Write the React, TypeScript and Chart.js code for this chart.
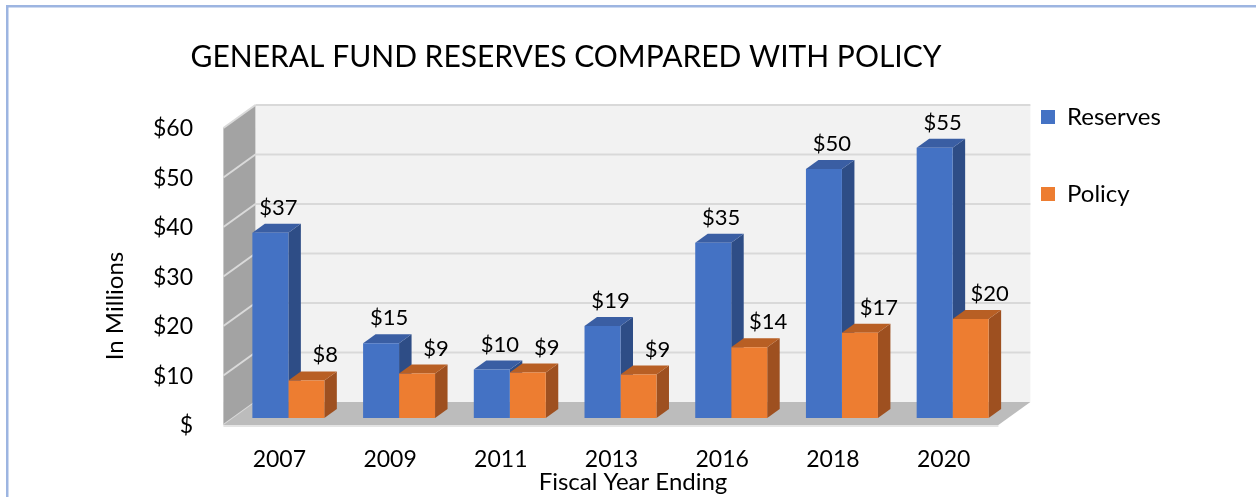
import React, { useEffect, useRef } from "react";
import { Chart, registerables } from "chart.js";

Chart.register(...registerables);

// ---- data ----
const categories = ["2007", "2009", "2011", "2013", "2016", "2018", "2020"];
const reserves = [37.4, 15.1, 9.8, 18.6, 35.4, 50.3, 54.6];
const policy = [7.6, 9.0, 9.2, 8.8, 14.3, 17.2, 20.0];
const yTicks = [0, 10, 20, 30, 40, 50, 60];
const seriesNames = ["Reserves", "Policy"];
const chartTitle = "GENERAL FUND RESERVES COMPARED WITH POLICY";
const xTitle = "Fiscal Year Ending";
const yTitle = "In Millions";

// ---- styling ----
const FONT = "Lato, 'Open Sans', sans-serif";
const FRONT = { dx: -9.6, dy: 7 };
const BACK = { dx: 22.4, dy: -16 };
const BAR_DEPTH = { dx: 12.5, dy: -9 };
const faceColors = [
  { front: "#4472c4", side: "#2e4d86", top: "#3a5ea3" },
  { front: "#ed7d31", side: "#9e5020", top: "#b85f24" },
];
const labelDx = [8, 19];

function poly(ctx: CanvasRenderingContext2D, pts: number[][], fill: string) {
  ctx.beginPath();
  ctx.moveTo(pts[0][0], pts[0][1]);
  for (let i = 1; i < pts.length; i++) ctx.lineTo(pts[i][0], pts[i][1]);
  ctx.closePath();
  ctx.fillStyle = fill;
  ctx.fill();
}

function line(ctx: CanvasRenderingContext2D, x1: number, y1: number, x2: number, y2: number, color: string, w: number) {
  ctx.beginPath();
  ctx.moveTo(x1, y1);
  ctx.lineTo(x2, y2);
  ctx.strokeStyle = color;
  ctx.lineWidth = w;
  ctx.stroke();
}

const plot3d = {
  id: "plot3d",
  beforeDraw(chart: any) {
    const ctx = chart.ctx as CanvasRenderingContext2D;
    ctx.save();
    ctx.fillStyle = "#9db5e1";
    ctx.fillRect(6, 5, chart.width - 6, 2.5);
    ctx.fillRect(6, 5, 2.5, chart.height - 5);
    ctx.restore();
  },
  afterLayout(chart: any) {
    const t = chart.titleBlock;
    if (t) {
      t.left = 0;
      t.right = 1132;
      t.width = 1132;
    }
    const lg = chart.legend;
    if (lg) {
      const h = lg.height;
      lg.left = chart.chartArea.right - 20;
      lg.right = chart.width;
      lg.width = lg.right - lg.left;
      lg.top = 52;
      lg.bottom = lg.top + h;
    }
  },
  beforeDatasetsDraw(chart: any) {
    const ctx = chart.ctx as CanvasRenderingContext2D;
    const { left, right } = chart.chartArea;
    const ys = chart.scales.y;
    const y0 = ys.getPixelForValue(0);
    const yTop = ys.getPixelForValue(ys.max);
    ctx.save();
    // back wall
    poly(ctx, [
      [left + BACK.dx, yTop + BACK.dy],
      [right + BACK.dx, yTop + BACK.dy],
      [right + BACK.dx, y0 + BACK.dy],
      [left + BACK.dx, y0 + BACK.dy],
    ], "#f2f2f2");
    // side wall
    poly(ctx, [
      [left + FRONT.dx, yTop + FRONT.dy],
      [left + BACK.dx, yTop + BACK.dy],
      [left + BACK.dx, y0 + BACK.dy],
      [left + FRONT.dx, y0 + FRONT.dy],
    ], "#a3a3a3");
    // grid lines
    yTicks.forEach((v) => {
      const yy = ys.getPixelForValue(v);
      if (v > 0) {
        line(ctx, left + BACK.dx, yy + BACK.dy, right + BACK.dx, yy + BACK.dy, "#d9d9d9", 2);
      }
      line(ctx, left + FRONT.dx, yy + FRONT.dy, left + BACK.dx, yy + BACK.dy, "#dadada", 2);
    });
    // floor
    poly(ctx, [
      [left + FRONT.dx, y0 + FRONT.dy],
      [right + FRONT.dx, y0 + FRONT.dy],
      [right + BACK.dx, y0 + BACK.dy],
      [left + BACK.dx, y0 + BACK.dy],
    ], "#bcbcbc");
    line(ctx, left + FRONT.dx, y0 + FRONT.dy + 1, right + FRONT.dx, y0 + FRONT.dy + 1, "#e4e4e4", 2);
    // bar extrusions
    const metas = chart.getSortedVisibleDatasetMetas();
    categories.forEach((_, i) => {
      metas.forEach((meta: any) => {
        const el = meta.data[i];
        if (!el) return;
        const { x, y, base, width } = el.getProps(["x", "y", "base", "width"], true);
        const l = x - width / 2;
        const r = x + width / 2;
        const c = faceColors[meta.index];
        poly(ctx, [
          [r, y],
          [r + BAR_DEPTH.dx, y + BAR_DEPTH.dy],
          [r + BAR_DEPTH.dx, base + BAR_DEPTH.dy],
          [r, base],
        ], c.side);
        poly(ctx, [
          [l, y],
          [l + BAR_DEPTH.dx, y + BAR_DEPTH.dy],
          [r + BAR_DEPTH.dx, y + BAR_DEPTH.dy],
          [r, y],
        ], c.top);
      });
    });
    ctx.restore();
  },
  afterDatasetsDraw(chart: any) {
    const ctx = chart.ctx as CanvasRenderingContext2D;
    ctx.save();
    ctx.font = `22px ${FONT}`;
    ctx.fillStyle = "#000";
    ctx.textAlign = "center";
    ctx.textBaseline = "middle";
    chart.getSortedVisibleDatasetMetas().forEach((meta: any) => {
      const values = chart.data.datasets[meta.index].data as number[];
      meta.data.forEach((el: any, i: number) => {
        const { x, y } = el.getProps(["x", "y"], true);
        ctx.fillText("$" + Math.round(values[i]), x + labelDx[meta.index], y - 25);
      });
    });
    ctx.restore();
  },
  afterDraw(chart: any) {
    const ctx = chart.ctx as CanvasRenderingContext2D;
    ctx.save();
    ctx.fillStyle = "#000";
    ctx.textAlign = "center";
    ctx.textBaseline = "middle";
    ctx.font = `24px ${FONT}`;
    ctx.fillText(xTitle, 633, 482);
    ctx.translate(115, 306);
    ctx.rotate(-Math.PI / 2);
    ctx.font = `24px ${FONT}`;
    ctx.fillText(yTitle, 0, 0);
    ctx.restore();
  },
};

export default function App() {
  const ref = useRef<HTMLCanvasElement | null>(null);
  useEffect(() => {
    if (!ref.current) return;
    const chart = new Chart(ref.current, {
      type: "bar",
      data: {
        labels: categories,
        datasets: [
          { label: seriesNames[0], data: reserves, backgroundColor: faceColors[0].front, borderWidth: 0, categoryPercentage: 0.65, barPercentage: 1.0 },
          { label: seriesNames[1], data: policy, backgroundColor: faceColors[1].front, borderWidth: 0, categoryPercentage: 0.65, barPercentage: 1.0 },
        ],
      },
      options: {
        responsive: false,
        animation: false,
        layout: { padding: { left: 0, right: 98, top: 0, bottom: 0 } },
        scales: {
          x: {
            grid: { display: false, drawTicks: false },
            border: { display: false },
            ticks: {
              font: { family: FONT, size: 23 },
              color: "#000",
              padding: 28,
              labelOffset: -9,
              maxRotation: 0,
              autoSkip: false,
            },
            afterFit: (s: any) => {
              s.height = 79;
            },
          },
          y: {
            min: 0,
            max: 60,
            grid: { display: false, drawTicks: false },
            border: { display: false },
            ticks: {
              stepSize: 10,
              callback: (v: any) => (Number(v) === 0 ? "$" : "$" + v),
              font: { family: FONT, size: 23 },
              color: "#000",
              padding: 40,
              labelOffset: 8,
            },
            afterFit: (s: any) => {
              s.width = 233;
            },
          },
        },
        plugins: {
          title: {
            display: true,
            text: chartTitle,
            font: { family: FONT, size: 30, weight: "normal" },
            color: "#000",
            padding: { top: 39, bottom: 46 },
          },
          legend: {
            position: "right",
            align: "start",
            maxWidth: 150,
            labels: {
              boxWidth: 14,
              boxHeight: 14,
              padding: 53,
              font: { family: FONT, size: 24 },
              color: "#000",
            },
          },
          tooltip: { enabled: false },
        },
      } as any,
      plugins: [plot3d],
    });
    return () => chart.destroy();
  }, []);
  return (
    <div style={{ position: "absolute", left: 0, top: 0, width: 1256, height: 497 }}>
      <canvas ref={ref} width={1256} height={497} style={{ display: "block" }} />
    </div>
  );
}
